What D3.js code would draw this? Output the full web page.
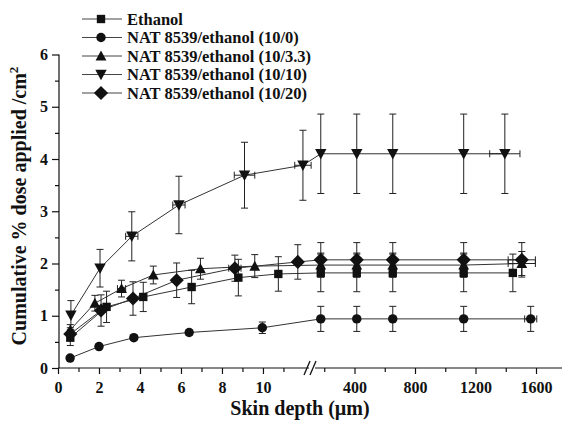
<!DOCTYPE html>
<html><head><meta charset="utf-8">
<script src="https://cdn.jsdelivr.net/npm/d3@7/dist/d3.min.js"></script>
<style>
html,body{margin:0;padding:0;background:#fff;}
svg{display:block;}
svg text{font-family:"Liberation Serif","Times New Roman",serif !important;font-weight:bold;}
</style></head><body>
<svg id="chart" width="562" height="423"></svg>
<script>
// ---- data ----
const seriesNames = ["Ethanol","NAT 8539/ethanol (10/0)","NAT 8539/ethanol (10/3.3)","NAT 8539/ethanol (10/10)","NAT 8539/ethanol (10/20)"];

const ethanolX   = [0.6, 2.37, 4.16, 6.52, 8.8, 10.75, 177, 415, 653, 1122, 1447];
const ethanolY   = [0.58, 1.17, 1.36, 1.55, 1.73, 1.80, 1.82, 1.82, 1.82, 1.82, 1.82];
const ethanolErr = [0.15, 0.30, 0.28, 0.32, 0.35, 0.33, 0.36, 0.36, 0.36, 0.36, 0.36];
const ethanolXErr= [0, 0, 0, 0, 0, 0, 0, 0, 0, 0, 0];

const nat0X   = [0.59, 2.0, 3.7, 6.4, 9.97, 177, 415, 653, 1122, 1565];
const nat0Y   = [0.19, 0.41, 0.58, 0.68, 0.77, 0.94, 0.94, 0.94, 0.94, 0.94];
const nat0Err = [0.03, 0.03, 0.04, 0.05, 0.11, 0.24, 0.24, 0.24, 0.24, 0.24];
const nat0XErr= [0, 0, 0, 0, 0, 0, 0, 0, 0, 40];

const nat33X   = [0.6, 1.8, 3.1, 4.65, 6.95, 9.6, 177, 415, 653, 1122, 1506];
const nat33Y   = [0.73, 1.24, 1.52, 1.78, 1.90, 1.95, 1.97, 1.97, 1.97, 1.97, 2.00];
const nat33Err = [0.10, 0.15, 0.16, 0.17, 0.20, 0.22, 0.23, 0.23, 0.23, 0.23, 0.23];
const nat33XErr= [0, 0, 0.2, 0, 0, 0, 0, 0, 0, 0, 90];

const nat10X   = [0.63, 2.05, 3.6, 5.9, 9.1, 11.95, 177, 415, 653, 1122, 1394];
const nat10Y   = [1.01, 1.91, 2.52, 3.12, 3.69, 3.88, 4.10, 4.10, 4.10, 4.10, 4.10];
const nat10Err = [0.28, 0.36, 0.47, 0.55, 0.63, 0.67, 0.76, 0.76, 0.76, 0.76, 0.76];
const nat10XErr= [0, 0, 0.3, 0.3, 0.5, 0.4, 0, 0, 0, 0, 100];

const nat20X   = [0.6, 2.1, 3.66, 5.79, 8.63, 11.7, 177, 415, 653, 1122, 1506];
const nat20Y   = [0.65, 1.10, 1.33, 1.68, 1.91, 2.03, 2.07, 2.07, 2.07, 2.07, 2.07];
const nat20Err = [0.12, 0.30, 0.32, 0.33, 0.25, 0.33, 0.33, 0.33, 0.33, 0.33, 0.33];
const nat20XErr= [0, 0, 0, 0, 0.3, 0, 0, 0, 0, 0, 90];

const xTicksLeft  = [0, 2, 4, 6, 8, 10];
const xMinorLeft  = [1, 3, 5, 7, 9, 11];
const xTicksRight = [400, 800, 1200, 1600];
const xMinorRight = [200, 600, 1000, 1400];
const yTicks = [0, 1, 2, 3, 4, 5, 6];
const yMinor = [0.5, 1.5, 2.5, 3.5, 4.5, 5.5];

// ---- build ----
const svg = d3.select("#chart");
const ink = "#111";

const y = d3.scaleLinear().domain([0, 6]).range([368, 54.5]);
const xL = d3.scaleLinear().domain([0, 12.1]).range([58, 306]);
const xR = d3.scaleLinear().domain([400, 1600]).range([354.5, 536]);
const X = v => v <= 50 ? xL(v) : xR(v);

const diamond = {draw(ctx, size){const r=Math.sqrt(size/2);ctx.moveTo(0,-r);ctx.lineTo(r,0);ctx.lineTo(0,r);ctx.lineTo(-r,0);ctx.closePath();}};
const triDown = {draw(ctx, size){const h=Math.sqrt(size*1.3);ctx.moveTo(-h/2,-h*0.42);ctx.lineTo(h/2,-h*0.42);ctx.lineTo(0,h*0.5);ctx.closePath();}};
const triUp = {draw(ctx, size){const h=Math.sqrt(size*1.3);ctx.moveTo(-h/2,h*0.42);ctx.lineTo(h/2,h*0.42);ctx.lineTo(0,-h*0.5);ctx.closePath();}};

const series = [
  {name: seriesNames[0], xs: ethanolX, ys: ethanolY, err: ethanolErr, xerr: ethanolXErr, sym: d3.symbolSquare, size: 70},
  {name: seriesNames[1], xs: nat0X, ys: nat0Y, err: nat0Err, xerr: nat0XErr, sym: d3.symbolCircle, size: 70},
  {name: seriesNames[2], xs: nat33X, ys: nat33Y, err: nat33Err, xerr: nat33XErr, sym: triUp, size: 90},
  {name: seriesNames[3], xs: nat10X, ys: nat10Y, err: nat10Err, xerr: nat10XErr, sym: triDown, size: 100},
  {name: seriesNames[4], xs: nat20X, ys: nat20Y, err: nat20Err, xerr: nat20XErr, sym: diamond, size: 100},
];

function styleAxis(g){
  g.attr("font-family", null).attr("font-size", null);
  g.selectAll("path.domain").remove();
  g.selectAll("line").attr("stroke", ink).attr("stroke-width", 1.2);
  g.selectAll("text").attr("fill", ink).style("font-size","16px").style("font-weight","bold");
}

// axes
const yAxisG = svg.append("g").attr("transform","translate(59,0)");
yAxisG.call(d3.axisLeft(y).tickValues(yTicks).tickSize(7).tickPadding(4).tickFormat(d3.format("d")));
yAxisG.append("g").call(d3.axisLeft(y).tickValues(yMinor).tickSize(4).tickFormat(""));
yAxisG.append("line").attr("x1",0).attr("x2",0).attr("y1",y(0)).attr("y2",y(6));
styleAxis(yAxisG);

const xAxisL = svg.append("g").attr("transform","translate(0,368)");
xAxisL.call(d3.axisBottom(xL).tickValues(xTicksLeft).tickSize(6).tickPadding(8).tickFormat(d3.format("d")));
xAxisL.append("g").call(d3.axisBottom(xL).tickValues(xMinorLeft).tickSize(4).tickFormat(""));
xAxisL.append("line").attr("x1",58).attr("x2",309).attr("y1",0).attr("y2",0);
styleAxis(xAxisL);

const xAxisR = svg.append("g").attr("transform","translate(0,368)");
xAxisR.call(d3.axisBottom(xR).tickValues(xTicksRight).tickSize(6).tickPadding(8).tickFormat(d3.format("d")));
xAxisR.append("g").call(d3.axisBottom(xR).tickValues(xMinorRight).tickSize(4).tickFormat(""));
xAxisR.append("line").attr("x1",315).attr("x2",562).attr("y1",0).attr("y2",0);
styleAxis(xAxisR);

// break marks
[307, 313].forEach(bx => {
  svg.append("line").attr("x1",bx-3).attr("y1",375).attr("x2",bx+3).attr("y2",361).attr("stroke",ink).attr("stroke-width",1.3);
});

// axis titles
svg.append("text").attr("x", 300).attr("y", 415).attr("text-anchor","middle")
   .attr("font-size", 20).attr("fill", ink).text("Skin depth (\u00b5m)");
const yt = svg.append("text").attr("transform","translate(26,206) rotate(-90)").attr("text-anchor","middle")
   .attr("font-size", 20).attr("fill", ink);
yt.append("tspan").text("Cumulative % dose applied /cm");
yt.append("tspan").attr("dy",-8).attr("font-size",13).text("2");

// lines
const lineGen = d3.line().x(d => X(d[0])).y(d => y(d[1]));
series.forEach(s => {
  const pts = s.xs.map((v,i) => [v, s.ys[i]]);
  svg.append("path").attr("d", lineGen(pts)).attr("fill","none").attr("stroke","#333").attr("stroke-width",1);
});

// error bars
series.forEach(s => {
  const g = svg.append("g").attr("stroke","#222").attr("stroke-width",1).attr("fill","none");
  s.xs.forEach((v,i) => {
    const cx = X(v), e = s.err[i];
    const y1 = y(s.ys[i] + e), y2 = y(s.ys[i] - e);
    g.append("line").attr("x1",cx).attr("x2",cx).attr("y1",y1).attr("y2",y2);
    g.append("line").attr("x1",cx-3.5).attr("x2",cx+3.5).attr("y1",y1).attr("y2",y1);
    g.append("line").attr("x1",cx-3.5).attr("x2",cx+3.5).attr("y1",y2).attr("y2",y2);
    const xe = s.xerr[i];
    if (xe > 0) {
      const xa = X(v - xe), xb = X(v + xe), cy = y(s.ys[i]);
      g.append("line").attr("x1",xa).attr("x2",xb).attr("y1",cy).attr("y2",cy);
      g.append("line").attr("x1",xa).attr("x2",xa).attr("y1",cy-3.5).attr("y2",cy+3.5);
      g.append("line").attr("x1",xb).attr("x2",xb).attr("y1",cy-3.5).attr("y2",cy+3.5);
    }
  });
});

// markers
series.forEach(s => {
  const sym = d3.symbol().type(s.sym).size(s.size);
  svg.append("g").selectAll("path").data(s.xs.map((v,i)=>[v,s.ys[i]])).join("path")
    .attr("transform", d => `translate(${X(d[0])},${y(d[1])})`)
    .attr("d", sym).attr("fill", ink);
});

// legend
const legY = [19, 37.5, 56, 74.5, 93];
const leg = svg.append("g");
series.forEach((s,i) => {
  const gy = legY[i];
  leg.append("line").attr("x1",82).attr("x2",122).attr("y1",gy).attr("y2",gy).attr("stroke","#444").attr("stroke-width",1);
  leg.append("path").attr("transform",`translate(101,${gy})`).attr("d", d3.symbol().type(s.sym).size(s.size)).attr("fill",ink);
  leg.append("text").attr("x",127).attr("y",gy+5.5).attr("font-size",16.5).attr("fill",ink).text(s.name);
});
</script>
</body></html>
